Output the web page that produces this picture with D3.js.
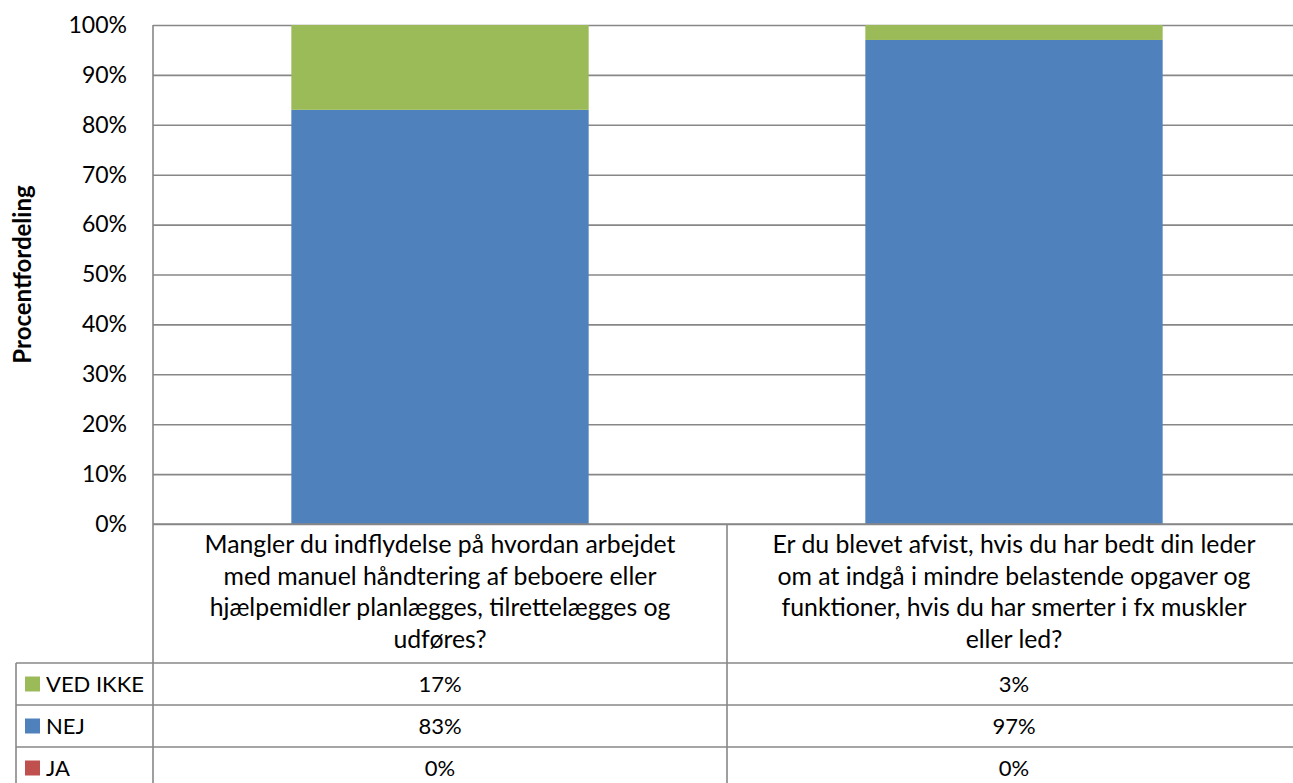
<!DOCTYPE html>
<html>
<head>
<meta charset="utf-8">
<script src="https://cdn.jsdelivr.net/npm/d3@7"></script>
<style>
  body { margin: 0; background: #fff; }
  svg { display: block; font-family: Lato, "Noto Sans", sans-serif; }
  .grid line { stroke: #878787; stroke-width: 1.6; }
  .grid path { display: none; }
  .tick text { fill: #000; }
</style>
</head>
<body>
<svg id="chart" width="1293" height="783"></svg>
<script>
const categories = [
  ["Mangler du indflydelse på hvordan arbejdet", "med manuel håndtering af beboere eller", "hjælpemidler planlægges, tilrettelægges og", "udføres?"],
  ["Er du blevet afvist, hvis du har bedt din leder", "om at indgå i mindre belastende opgaver og", "funktioner, hvis du har smerter i fx muskler", "eller led?"]
]
const seriesNames = ["JA", "NEJ", "VED IKKE"]
const jaValues = [0, 0]
const nejValues = [83, 97]
const vedIkkeValues = [17, 3]
const yTicks = [0, 10, 20, 30, 40, 50, 60, 70, 80, 90, 100]
const colors = { "JA": "#C0504D", "NEJ": "#4F81BD", "VED IKKE": "#9BBB59" }

const rows = categories.map((c, i) => ({
  key: i,
  "JA": jaValues[i],
  "NEJ": nejValues[i],
  "VED IKKE": vedIkkeValues[i]
}))

const svg = d3.select('#chart')
// plot runs a little past the right edge of the picture, like the original
const plotLeft = 153, plotRight = 1301, plotTop = 25, plotBottom = 524
const tableTop = 663, rowH = 42, tableLeft = 16
const lineColor = '#878787'

const x = d3.scaleBand()
  .domain(rows.map(r => r.key))
  .range([plotLeft, plotRight])
  .paddingInner(0)
  .paddingOuter(0)

const barPad = 0.241
const barWidth = x.bandwidth() * (1 - 2 * barPad)

const y = d3.scaleLinear()
  .domain([0, 100])
  .range([plotBottom, plotTop])

// horizontal gridlines
svg.append('g')
  .attr('class', 'grid')
  .attr('transform', `translate(${plotLeft},0)`)
  .call(d3.axisLeft(y)
    .tickValues(yTicks)
    .tickSize(-(plotRight - plotLeft))
    .tickFormat(''))

// stacked bars
const stack = d3.stack().keys(seriesNames)
const layers = stack(rows)

svg.append('g')
  .selectAll('g')
  .data(layers)
  .enter()
  .append('g')
  .attr('fill', d => colors[d.key])
  .selectAll('rect')
  .data(d => d)
  .enter()
  .append('rect')
  .attr('x', d => x(d.data.key) + x.bandwidth() * barPad)
  .attr('y', d => y(d[1]))
  .attr('width', barWidth)
  .attr('height', d => y(d[0]) - y(d[1]))

// y axis labels
const yAxis = svg.append('g')
  .attr('transform', `translate(${plotLeft},0)`)
  .call(d3.axisLeft(y)
    .tickValues(yTicks)
    .tickSize(0)
    .tickPadding(26)
    .tickFormat(d => d + '%'))
yAxis.select('.domain').remove()
yAxis.selectAll('text')
  .attr('font-size', 23)
  .attr('font-family', 'Lato, "Noto Sans", sans-serif')

// axis title
svg.append('text')
  .attr('transform', `translate(31, ${(plotTop + plotBottom) / 2}) rotate(-90)`)
  .attr('text-anchor', 'middle')
  .attr('font-weight', 'bold')
  .attr('font-size', 24)
  .text('Procentfordeling')

// table / frame lines
const frame = svg.append('g')
  .attr('stroke', lineColor)
  .attr('stroke-width', 1.6)

frame.append('line')
  .attr('x1', plotLeft).attr('x2', plotLeft)
  .attr('y1', plotTop).attr('y2', 783)
frame.append('line')
  .attr('x1', plotLeft).attr('x2', plotRight)
  .attr('y1', plotBottom).attr('y2', plotBottom)
rows.slice(1).forEach(r => {
  frame.append('line')
    .attr('x1', x(r.key)).attr('x2', x(r.key))
    .attr('y1', plotBottom).attr('y2', 783)
})
frame.append('line')
  .attr('x1', tableLeft).attr('x2', tableLeft)
  .attr('y1', tableTop).attr('y2', 783)
;[0, 1, 2].forEach(i => {
  frame.append('line')
    .attr('x1', tableLeft).attr('x2', plotRight)
    .attr('y1', tableTop + i * rowH).attr('y2', tableTop + i * rowH)
})

// category labels
const catLabels = svg.append('g')
  .attr('font-size', 24.8)
  .attr('text-anchor', 'middle')
categories.forEach((lns, i) => {
  const t = catLabels.append('text')
    .attr('x', x(i) + x.bandwidth() / 2)
    .attr('y', 553)
  lns.forEach((l, j) => {
    t.append('tspan')
      .attr('x', x(i) + x.bandwidth() / 2)
      .attr('dy', j === 0 ? 0 : 31.7)
      .text(l)
  })
})

// table rows (legend + values)
const tableOrder = ["VED IKKE", "NEJ", "JA"]
const valuesByName = { "JA": jaValues, "NEJ": nejValues, "VED IKKE": vedIkkeValues }
tableOrder.forEach((name, i) => {
  const cy = tableTop + i * rowH + rowH / 2
  svg.append('rect')
    .attr('x', 25).attr('y', cy - 7.5)
    .attr('width', 15).attr('height', 15)
    .attr('fill', colors[name])
  svg.append('text')
    .attr('x', 46).attr('y', cy)
    .attr('dy', '0.35em')
    .attr('font-size', 22)
    .text(name)
  valuesByName[name].forEach((v, j) => {
    svg.append('text')
      .attr('x', x(j) + x.bandwidth() / 2)
      .attr('y', cy)
      .attr('dy', '0.35em')
      .attr('text-anchor', 'middle')
      .attr('font-size', 22)
      .text(v + '%')
  })
})
</script>
</body>
</html>
